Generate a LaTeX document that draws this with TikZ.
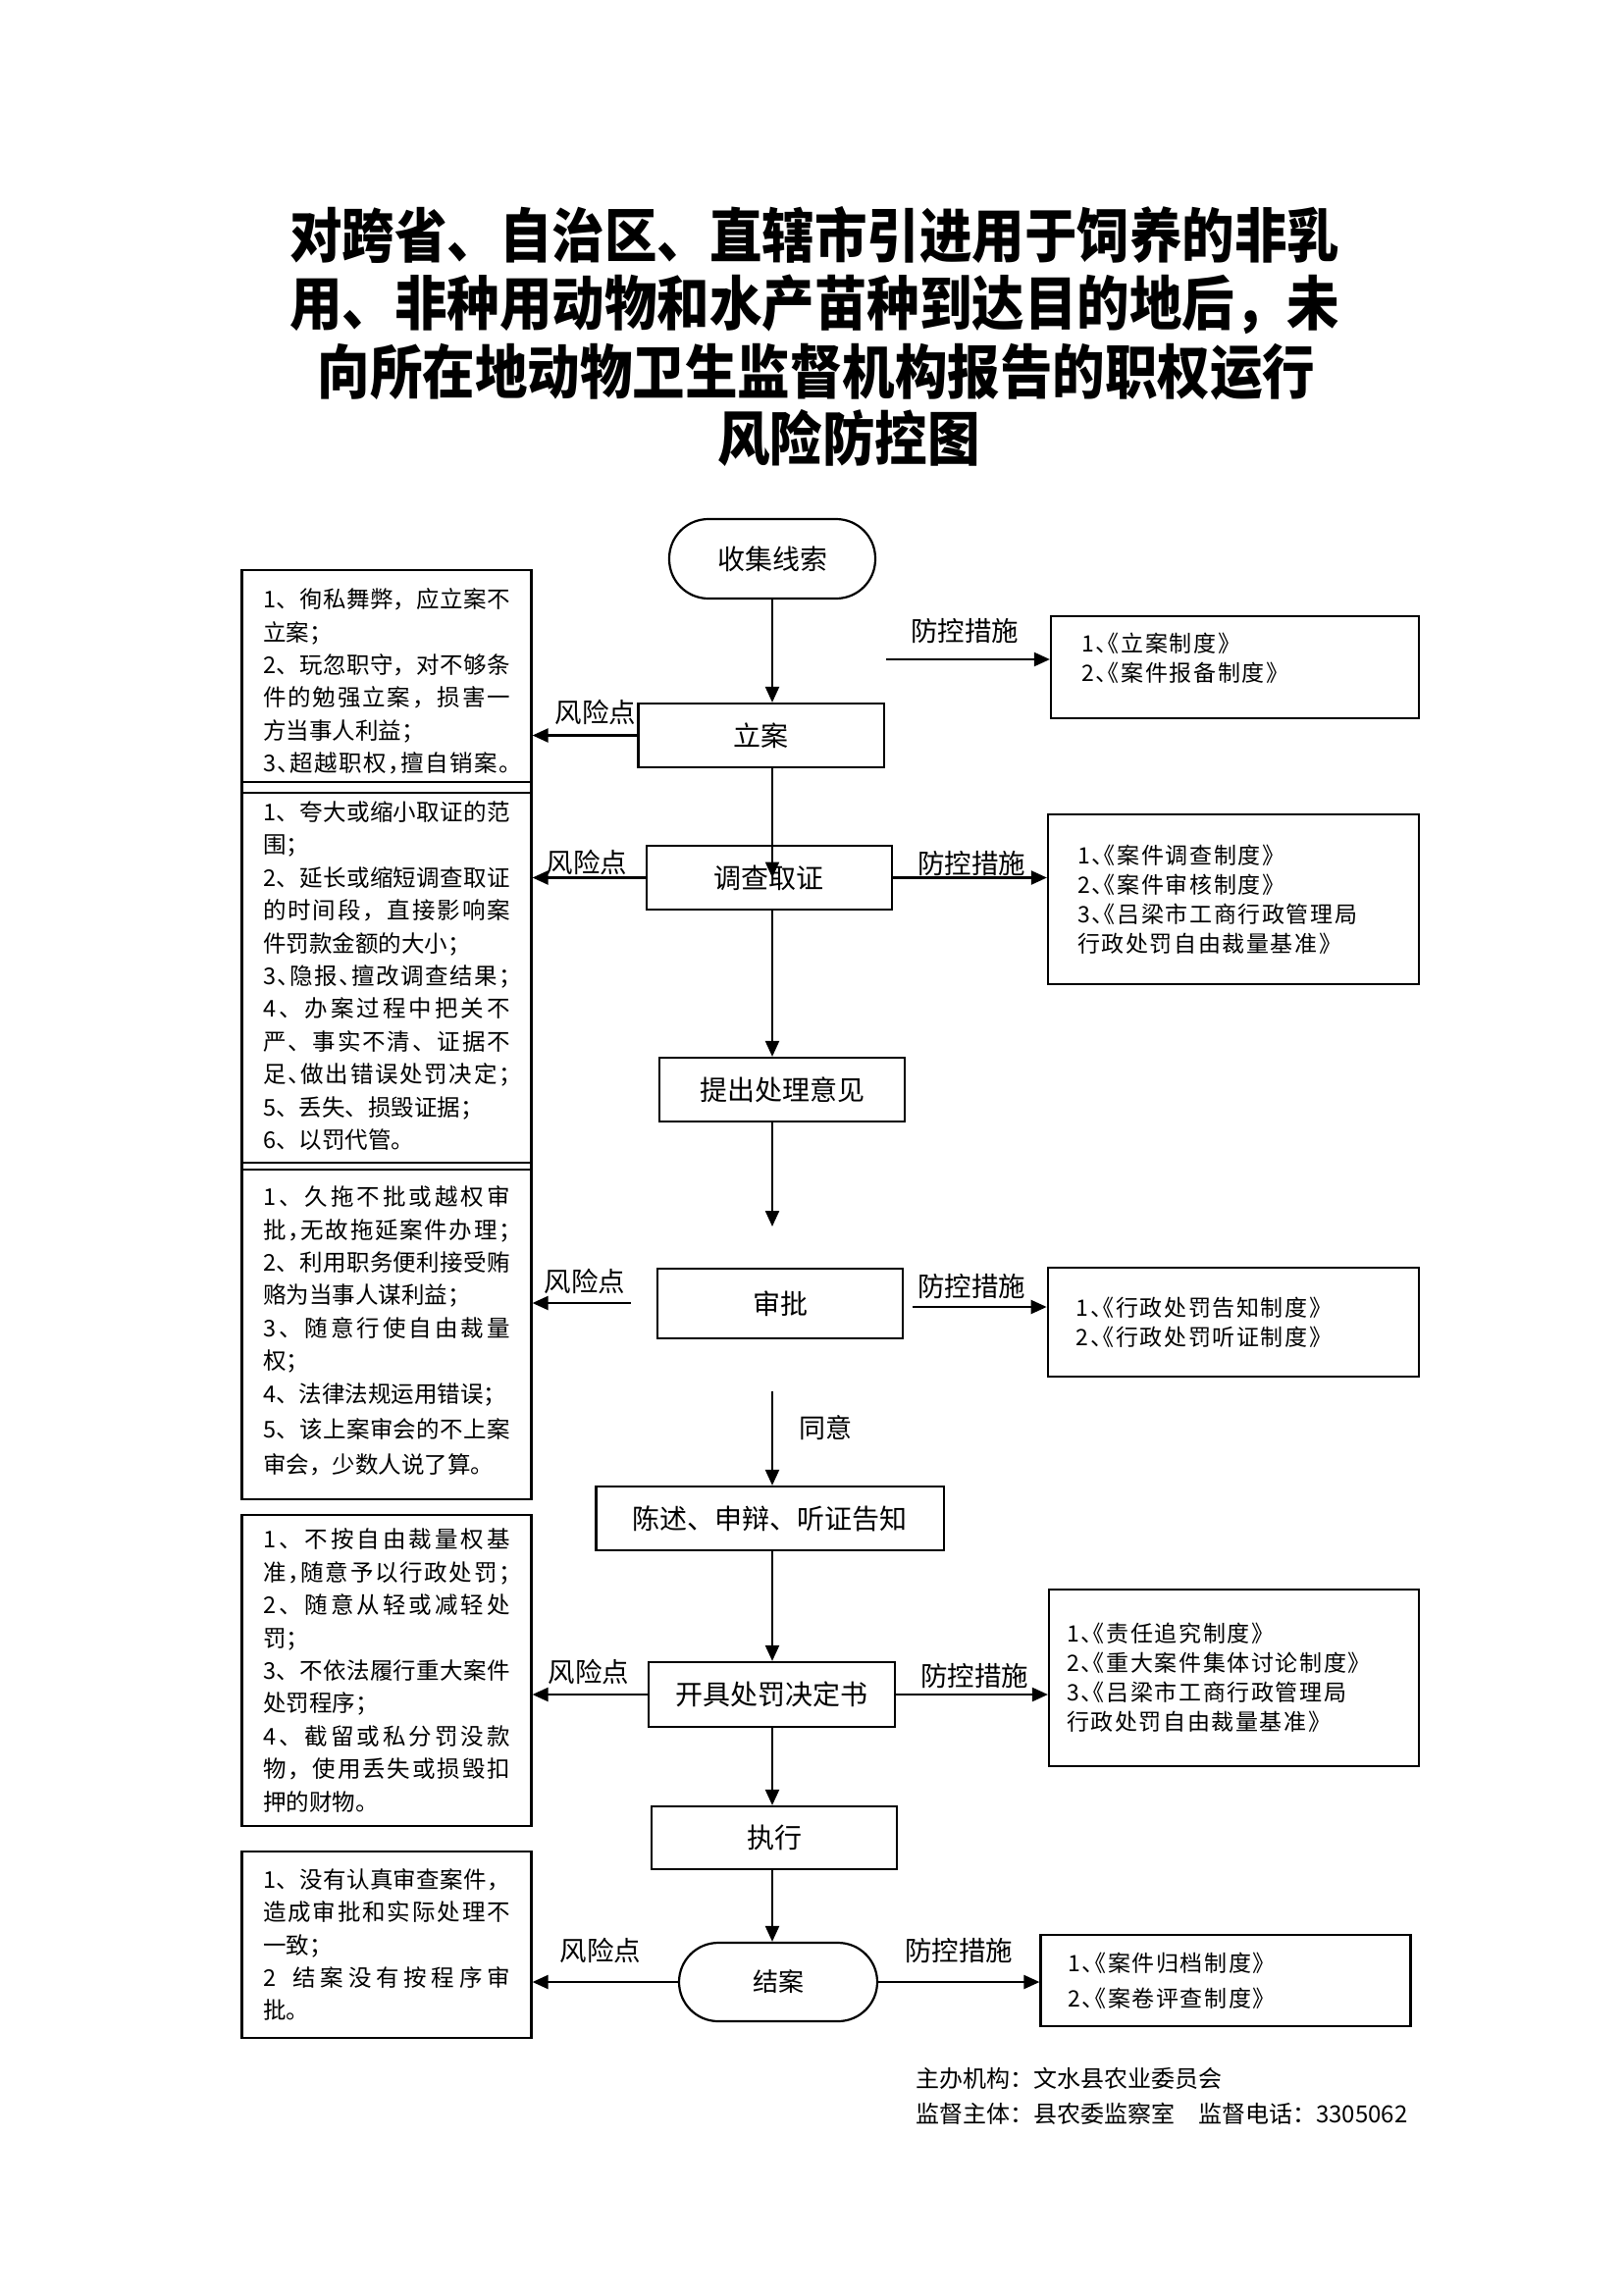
\documentclass[tikz,border=0pt]{standalone}
\usepackage{fontspec}
\setmainfont{Noto Sans CJK SC}
\usetikzlibrary{arrows.meta}
\newlength\jw
\setlength\jw{252pt}
\makeatletter
\newcommand\jus[1]{\makebox[\jw][s]{\@tfor\jc:=#1\do{\jc\hskip 0pt plus 1fil minus 1pt}\unskip}}
\makeatother
\newcommand\halt{\addfontfeature{RawFeature=+halt}}
\newcommand\lfont{\fontsize{23.5}{33.4}\selectfont}
\newcommand\rfont{\fontsize{23}{30}\selectfont\addfontfeature{RawFeature=+halt,LetterSpace=7}}
\newcommand\ffont{\fontsize{28}{32}\selectfont}
\newcommand\tfont{\fontsize{53.5}{60}\selectfont\bfseries}
\begin{document}
\begin{tikzpicture}[x=1pt,y=-1pt,
  fbox/.style={draw, line width=2.2pt, inner sep=0pt, font=\ffont},
  lbox/.style={draw, line width=2.2pt, inner xsep=21.5pt, inner ysep=0pt, text width=252pt, align=left, font=\lfont},
  rbox/.style={draw, line width=2.2pt, inner ysep=0pt, align=left, font=\rfont},
  arr/.style={line width=2.2pt, -{Triangle[length=16pt,width=14pt]}},
  lab/.style={inner sep=0pt, font=\fontsize{27.5}{30}\selectfont},
  ttl/.style={inner sep=0pt, font=\tfont}]
\useasboundingbox (0,0) rectangle (1654,2339);

% title
\node[ttl] (t1) at (830,240) {\scalebox{1}[1.12]{对跨省、自治区、直辖市引进用于饲养的非乳}};
\node[ttl] (t2) at (830,310) {\scalebox{1}[1.12]{用、非种用动物和水产苗种到达目的地后，未}};
\node[ttl] (t3) at (832,379) {\scalebox{1}[1.12]{向所在地动物卫生监督机构报告的职权运行}};
\node[ttl] (t4) at (865,446) {\scalebox{1}[1.12]{风险防控图}};

\coordinate (spine) at (787,0);

% flow nodes
\node[fbox, rounded corners=40pt, minimum width=210pt, minimum height=81pt] (sjxs) at (787,569.5) {收集线索};
\node[fbox, minimum width=250.5pt, minimum height=65pt] (lian) at (775.75,749.5) {立案};
\node[fbox, minimum width=250pt, minimum height=65pt] (dcqz) at (783.6,894.5) {调查取证};
\node[fbox, minimum width=250pt, minimum height=65pt] (tcyj) at (797,1110.5) {提出处理意见};
\node[fbox, minimum width=250pt, minimum height=71pt] (sp) at (795,1328.5) {审批};
\node[fbox, minimum width=354.5pt, minimum height=65pt] (cs) at (784.75,1547.5) {陈述、申辩、听证告知};
\node[fbox, minimum width=251pt, minimum height=66pt] (kj) at (786.5,1727) {开具处罚决定书};
\node[fbox, minimum width=250pt, minimum height=64pt] (zx) at (789,1873) {执行};
\node[fbox, rounded corners=40pt, minimum width=202pt, minimum height=80pt, font=\fontsize{26}{30}\selectfont] (ja) at (793,2020) {结案};

% left risk boxes
\node[lbox, minimum height=227pt] (b1) at (394,694.5) {%
\jus{1、徇私舞弊，应立案不}\\
立案；\\
\jus{2、玩忽职守，对不够条}\\
\jus{件的勉强立案，损害一}\\
方当事人利益；\\
{\halt\jus{3、超越职权，擅自销案。}}};

\node[lbox, minimum height=395pt] (b2) at (394,994.5) {%
\jus{1、夸大或缩小取证的范}\\
围；\\
\jus{2、延长或缩短调查取证}\\
\jus{的时间段，直接影响案}\\
件罚款金额的大小；\\
{\halt\jus{3、隐报、擅改调查结果；}}\\
\jus{4、办案过程中把关不}\\
\jus{严、事实不清、证据不}\\
{\halt\jus{足、做出错误处罚决定；}}\\
5、丢失、损毁证据；\\
6、以罚代管。};

\node[lbox, minimum height=343pt] (b3) at (394,1356.5) {%
\jus{1、久拖不批或越权审}\\
{\halt\jus{批，无故拖延案件办理；}}\\
\jus{2、利用职务便利接受贿}\\
赂为当事人谋利益；\\
\jus{3、随意行使自由裁量}\\
权；\\
4、法律法规运用错误；\\[3pt]
\jus{5、该上案审会的不上案}\\[3pt]
审会，少数人说了算。};

\node[lbox, minimum height=317pt] (b4) at (394,1702.5) {%
\jus{1、不按自由裁量权基}\\
{\halt\jus{准，随意予以行政处罚；}}\\
\jus{2、随意从轻或减轻处}\\
罚；\\
\jus{3、不依法履行重大案件}\\
处罚程序；\\
\jus{4、截留或私分罚没款}\\
\jus{物，使用丢失或损毁扣}\\
押的财物。};

\node[lbox, minimum height=190pt] (b5) at (394,1982) {%
\jus{1、没有认真审查案件，}\\
\jus{造成审批和实际处理不}\\
一致；\\
\jus{2~结案没有按程序审}\\
批。};

% right measure boxes
\node[rbox, inner xsep=31pt, text width=313pt, minimum height=104pt] (r1) at (1258.5,680) {%
1、《立案制度》\\
2、《案件报备制度》\\[-10pt]\mbox{}};
\node[rbox, inner xsep=30pt, text width=318pt, minimum height=173pt] (r2) at (1257,916.5) {%
1、《案件调查制度》\\
2、《案件审核制度》\\
3、《吕梁市工商行政管理局\\
行政处罚自由裁量基准》};
\node[rbox, inner xsep=29pt, text width=320pt, minimum height=111pt] (r3) at (1256.75,1347.5) {%
1、《行政处罚告知制度》\\
2、《行政处罚听证制度》};
\node[rbox, inner xsep=18pt, text width=341pt, minimum height=180pt] (r4) at (1257.5,1710) {%
1、《责任追究制度》\\
2、《重大案件集体讨论制度》\\
3、《吕梁市工商行政管理局\\
行政处罚自由裁量基准》};
\node[rbox, inner xsep=28pt, text width=321pt, minimum height=93pt, font=\fontsize{23}{36}\selectfont\addfontfeature{RawFeature=+halt,LetterSpace=7}] (r5) at (1249,2018.5) {%
1、《案件归档制度》\\
2、《案卷评查制度》};

% main flow connectors
\coordinate (a4e) at (787,1250);
\coordinate (a5s) at (787,1418);
\draw[arr] (sjxs.south) -- (sjxs.south |- lian.north);
\draw[arr] (lian.south -| spine) -- (dcqz.center -| spine);
\draw[arr] (dcqz.south -| spine) -- (spine |- tcyj.north);
\draw[arr] (tcyj.south -| spine) -- (a4e);
\draw[arr] (a5s) -- (a5s |- cs.north);
\draw[arr] (cs.south -| spine) -- (spine |- kj.north);
\draw[arr] (kj.south -| spine) -- (spine |- zx.north);
\draw[arr] (zx.south -| spine) -- (spine |- ja.north);
\node[lab, font=\fontsize{27}{30}\selectfont] (ty) at (841,1455) {同意};

% risk point connectors
\coordinate (rp3s) at (643,1328);
\draw[arr] (lian.west) -- (lian.west -| b1.east);
\draw[arr] (dcqz.west) -- (dcqz.west -| b2.east);
\draw[arr] (rp3s) -- (rp3s -| b3.east);
\draw[arr] (kj.west) -- (kj.west -| b4.east);
\draw[arr] (ja.west) -- (ja.west -| b5.east);
\node[lab] (f1) at (607,726) {风险点};
\node[lab] (f2) at (598,879) {风险点};
\node[lab] (f3) at (596,1306) {风险点};
\node[lab] (f4) at (600,1704) {风险点};
\node[lab] (f5) at (612,1988) {风险点};

% control measure connectors
\coordinate (ca1s) at (903,672);
\coordinate (ca3s) at (930,1332);
\draw[arr] (ca1s) -- (ca1s -| r1.west);
\draw[arr] (dcqz.east) -- (dcqz.east -| r2.west);
\draw[arr] (ca3s) -- (ca3s -| r3.west);
\draw[arr] (kj.east) -- (kj.east -| r4.west);
\draw[arr] (ja.east) -- (ja.east -| r5.west);
\node[lab] (m1) at (983,643) {防控措施};
\node[lab] (m2) at (990,880) {防控措施};
\node[lab] (m3) at (990,1311) {防控措施};
\node[lab] (m4) at (993,1708) {防控措施};
\node[lab] (m5) at (977,1988) {防控措施};

% footer
\node[anchor=west, inner sep=0pt, font=\fontsize{24}{28}\selectfont] (foot1) at (933,2118) {主办机构：文水县农业委员会};
\node[anchor=west, inner sep=0pt, font=\fontsize{24}{28}\selectfont] (foot2) at (933,2154) {监督主体：县农委监察室\hspace{24pt}监督电话：3305062};
\end{tikzpicture}
\end{document}
